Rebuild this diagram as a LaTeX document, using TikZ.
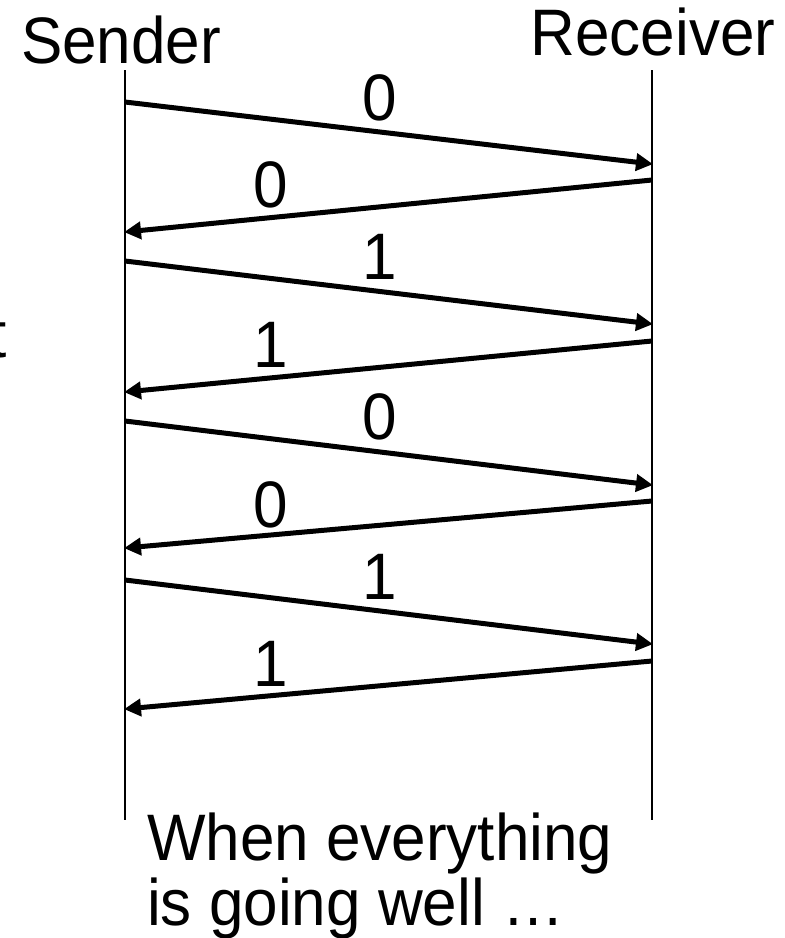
\documentclass[tikz,border=0pt]{standalone}
\usepackage{fontspec}
\setmainfont{Liberation Sans}
\usetikzlibrary{arrows.meta}
\newcommand{\tallt}[1]{\scalebox{1}[1.06]{#1}}
\begin{document}
\begin{tikzpicture}[x=1pt,y=-1pt,
  lbl/.style={inner sep=0pt,font=\fontsize{62}{68}\selectfont},
  digit/.style={inner sep=0pt,anchor=base,font=\fontsize{62}{68}\selectfont},
  life/.style={line width=1.8pt},
  msg/.style={line width=5pt,-{Triangle[length=17pt,width=17pt]},shorten >=-1pt}]
\useasboundingbox (0,0) rectangle (785,938);
\clip (0,0) rectangle (785,938);
% headers
\node[lbl,anchor=base] (snd) at (121,63) {\tallt{Sender}};
\node[lbl,anchor=base] (rcv) at (653,55) {\tallt{Receiver}};
% lifelines
\coordinate (s0) at (125,70); \coordinate (s1) at (125,820);
\coordinate (r0) at (652,70); \coordinate (r1) at (652,820);
\draw[life] (s0) -- (s1);
\draw[life] (r0) -- (r1);
% message end points
\coordinate (a1) at (125,102); \coordinate (b1) at (652,164);
\coordinate (a2) at (652,180); \coordinate (b2) at (125,232);
\coordinate (a3) at (125,261); \coordinate (b3) at (652,324);
\coordinate (a4) at (652,341); \coordinate (b4) at (125,392);
\coordinate (a5) at (125,421); \coordinate (b5) at (652,485);
\coordinate (a6) at (652,501); \coordinate (b6) at (125,548);
\coordinate (a7) at (125,580); \coordinate (b7) at (652,644);
\coordinate (a8) at (652,661); \coordinate (b8) at (125,709);
\draw[msg] (a1) -- (b1);
\draw[msg] (a2) -- (b2);
\draw[msg] (a3) -- (b3);
\draw[msg] (a4) -- (b4);
\draw[msg] (a5) -- (b5);
\draw[msg] (a6) -- (b6);
\draw[msg] (a7) -- (b7);
\draw[msg] (a8) -- (b8);
% labels
\node[digit] (l1) at (380,120) {\tallt{0}};
\node[digit] (l2) at (271,207) {\tallt{0}};
\node[digit] (l3) at (380,279) {\tallt{1}};
\node[digit] (l4) at (271,367) {\tallt{1}};
\node[digit] (l5) at (380,439) {\tallt{0}};
\node[digit] (l6) at (271,527) {\tallt{0}};
\node[digit] (l7) at (380,599) {\tallt{1}};
\node[digit] (l8) at (271,686) {\tallt{1}};
% cropped letter at the left edge
\node[lbl,anchor=base west] (tt) at (-11,357) {\tallt{t}};
% caption
\node[lbl,anchor=base west] (c1) at (147,860) {\tallt{When everything}};
\node[lbl,anchor=base west] (c2) at (147,925) {\tallt{is going well …}};
\end{tikzpicture}
\end{document}
